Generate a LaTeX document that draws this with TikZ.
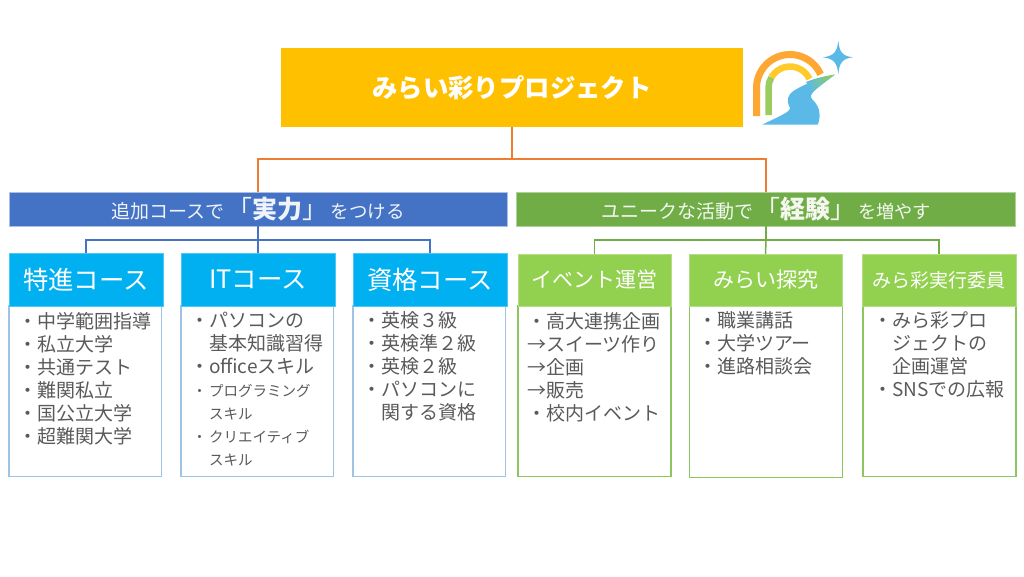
\documentclass[tikz,border=0pt]{standalone}
\usepackage{fontspec}
\setmainfont{Noto Sans CJK JP}
\definecolor{ctitle}{HTML}{FFC000}
\definecolor{corange}{HTML}{ED7D31}
\definecolor{cblue}{HTML}{4472C4}
\definecolor{cgreen}{HTML}{70AD47}
\definecolor{chead}{HTML}{00B0F0}
\definecolor{cghead}{HTML}{92D050}
\definecolor{cbodyb}{HTML}{9DC3E6}
\definecolor{cbodyg}{HTML}{8CC65E}
\definecolor{ctext}{HTML}{5A5A5A}
\definecolor{criver}{HTML}{5BB9E8}
\definecolor{clogoo}{HTML}{FFA733}
\definecolor{clogoy}{HTML}{FFCB2B}
\definecolor{clogog}{HTML}{9CCB5F}
\newcommand{\fs}[1]{\fontsize{#1}{23}\selectfont}
\newcommand{\smb}{\makebox[19pt][c]{\fs{14.5}・}\fs{14.5}}
\tikzset{
  x=1pt,y=-1pt,
  box/.style={inner sep=0pt,outer sep=0pt,anchor=north west,align=center},
  titlebox/.style={box,fill=ctitle,text=white,font=\bfseries\fs{25.4}},
  bannerb/.style={box,fill=cblue,draw=cblue!45!white,line width=0.8pt,text=white!92!cblue},
  bannerg/.style={box,fill=cgreen,draw=cgreen!55!white,line width=0.8pt,text=white!92!cgreen},
  headb/.style={box,fill=chead,draw=chead!70!white,line width=0.5pt,text=white,font=\fs{25.4}},
  headg/.style={box,fill=cghead,draw=cghead!70!white,line width=0.5pt,text=white,font=\fs{21}},
  bodyb/.style={box,fill=white,draw=cbodyb,line width=1.2pt},
  bodyg/.style={box,fill=white,draw=cbodyg,line width=1.2pt},
  list/.style={inner sep=0pt,outer sep=0pt,anchor=north west,align=left,text=ctext,font=\fs{19}},
  conno/.style={corange,line width=1.5pt},
  connb/.style={cblue,line width=1.5pt},
  conng/.style={cgreen,line width=1.5pt},
}
\begin{document}
\begin{tikzpicture}
\useasboundingbox (0,0) rectangle (1024,576);
\fill[white] (0,0) rectangle (1024,576);
% title and banners
\node[titlebox,minimum width=462pt,minimum height=79pt] (title) at (281,48) {\raisebox{1pt}{みらい彩りプロジェクト}};
\node[bannerb,minimum width=498pt,minimum height=34pt] (bb) at (9,192) {\fs{19}追加コースで\hspace{3pt}{\fs{25}「\textbf{実力}」}\hspace{3pt}\fs{18.5}をつける};
\node[bannerg,minimum width=498.6pt,minimum height=34pt] (bg) at (516.7,192) {\fs{19}ユニークな活動で\hspace{2pt}{\fs{25}「\textbf{経験}」}\hspace{3pt}\fs{18.2}を増やす};
% bodies
\node[bodyb,minimum width=152.5pt,minimum height=170.7pt] (b1) at (9,306) {};
\node[bodyb,minimum width=152.5pt,minimum height=170.7pt] (b2) at (181,306) {};
\node[bodyb,minimum width=152.5pt,minimum height=170.7pt] (b3) at (353,306) {};
\node[bodyg,minimum width=153pt,minimum height=170.7pt] (g1) at (518,306) {};
\node[bodyg,minimum width=152.5pt,minimum height=171.7pt] (g2) at (689.7,306) {};
\node[bodyg,minimum width=153pt,minimum height=170.7pt] (g3) at (863,306) {};
% heads
\node[headb,minimum width=154pt,minimum height=53pt] (h1) at (9,253) {特進コース};
\node[headb,minimum width=154pt,minimum height=53pt] (h2) at (181,253) {ITコース};
\node[headb,minimum width=154pt,minimum height=53pt] (h3) at (353,253) {資格コース};
\node[headg,minimum width=153pt,minimum height=52pt] (k1) at (518,254) {イベント運営};
\node[headg,minimum width=153pt,minimum height=52pt] (k2) at (689,254) {みらい探究};
\node[headg,minimum width=154pt,minimum height=52pt,font=\fs{19}] (k3) at (862,254) {みら彩実行委員};
% connectors
\draw[conno] (title.south) -- ++(0,32) -| (bb.north);
\draw[conno] (title.south) -- ++(0,32) -| (bg.north);
\draw[connb] (bb.south) -- ++(0,14) -| (h1.north);
\draw[connb] (bb.south) -- (h2.north);
\draw[connb] (bb.south) -- ++(0,14) -| (h3.north);
\draw[conng] (bg.south) -- ++(0,14) -| (k1.north);
\draw[conng] (bg.south) -- ++(0,14) -- (k2.north);
\draw[conng] (bg.south) -- ++(0,14) -| (k3.north);
% lists
\node[list] (l1) at (18,312) {・中学範囲指導\\・私立大学\\・共通テスト\\・難関私立\\・国公立大学\\・超難関大学};
\node[list] (l2) at (190,312) {・パソコンの\\\hspace*{19pt}基本知識習得\\・officeスキル\\\smb プログラミング\\\hspace*{19pt}\fs{14.5}スキル\\\smb クリエイティブ\\\hspace*{19pt}\fs{14.5}スキル};
\node[list] (l3) at (362.5,312) {・英検３級\\・英検準２級\\・英検２級\\・パソコンに\\\hspace*{19pt}関する資格};
\node[list] (l4) at (527,312) {・高大連携企画\\→スイーツ作り\\→企画\\→販売\\・校内イベント};
\node[list] (l5) at (698,312) {・職業講話\\・大学ツアー\\・進路相談会};
\node[list] (l6) at (873,312) {・みら彩プロ\\\hspace*{19pt}ジェクトの\\\hspace*{19pt}企画運営\\・SNSでの広報};
% logo
\draw[line width=7pt,color=clogoo] (756.5,116) -- (756.5,88) arc[start angle=180,end angle=336,radius=33.5];
\draw[line width=6.5pt,color=clogog] (768.5,115) -- (768.5,88) arc[start angle=180,end angle=210,radius=21.5];
\draw[line width=6.5pt,color=clogoy] (771.4,77.3) arc[start angle=210,end angle=335,radius=21.5];
\fill[criver] (835,74.5) .. controls (815,80) and (805,84) .. (795,90) .. controls (787,95) and (786,100) .. (790,108) .. controls (790,112) and (780,116) .. (762.5,124.5) -- (818,124.5) .. controls (822,112) and (818,105) .. (812,99) .. controls (808,94) and (815,90) .. (835,74.5) -- cycle;
\shade[left color=criver,right color=cghead] (806,82) .. controls (816,78) and (825,76) .. (835,74.5) .. controls (825,82) and (816,87) .. (812,91) -- cycle;
\fill[criver] (838.3,40.7) .. controls (839.5,52) and (842,56) .. (853,57.3) .. controls (842,58.5) and (839.5,63) .. (838.3,74) .. controls (837,63) and (834,58.5) .. (822.7,57.3) .. controls (834,56) and (837,52) .. (838.3,40.7) -- cycle;
\end{tikzpicture}
\end{document}
